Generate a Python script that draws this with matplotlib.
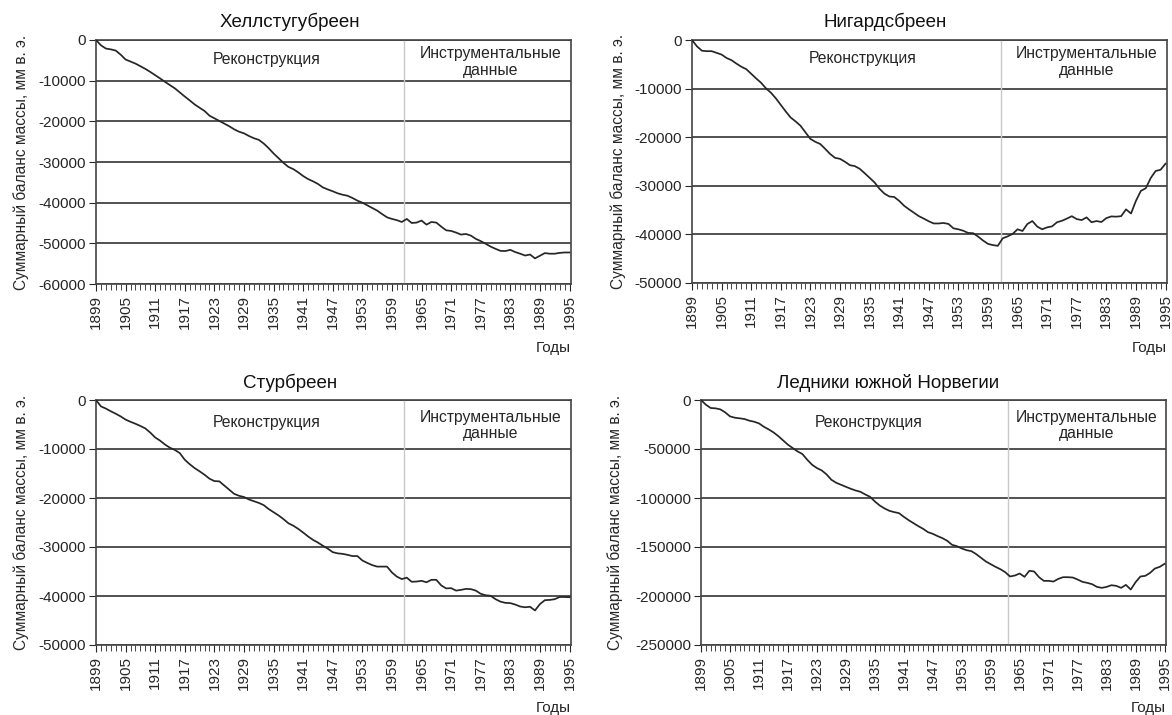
import numpy as np
import matplotlib
matplotlib.use('Agg')
import matplotlib.pyplot as plt

plt.rcParams['font.family'] = ['Liberation Sans', 'DejaVu Sans']
plt.rcParams['axes.unicode_minus'] = False

years = list(range(1899, 1996))

hellstugubreen = [
    0, -1300, -2100, -2300, -2600, -3600, -4800, -5300, -5800, -6450,
    -7100, -7850, -8650, -9450, -10300, -11100, -11900, -12900, -13900, -14850,
    -15850, -16650, -17450, -18600, -19250, -19900, -20550, -21200, -21950, -22550,
    -22950, -23600, -24150, -24550, -25450, -26600, -27900, -29050, -30200, -31200,
    -31750, -32550, -33450, -34200, -34750, -35400, -36250, -36750, -37200, -37700,
    -38050, -38300, -38850, -39500, -40000, -40650, -41300, -41950, -42800, -43600,
    -44000, -44300, -44750, -44000, -45000, -44900, -44400, -45400, -44750, -44900,
    -45900, -46800, -46950, -47350, -47850, -47700, -48100, -48900, -49450, -50100,
    -50800, -51350, -51850, -51900, -51600, -52150, -52550, -53000, -52750, -53700,
    -53050, -52400, -52550, -52550, -52350, -52250, -52250]

nigardsbreen = [
    0, -1300, -2200, -2300, -2300, -2650, -3000, -3700, -4150, -4850,
    -5500, -6000, -6950, -7900, -8800, -9950, -10850, -12000, -13350, -14700,
    -15950, -16750, -17650, -19000, -20350, -20950, -21400, -22400, -23450, -24250,
    -24450, -25050, -25750, -25950, -26500, -27400, -28350, -29300, -30600, -31600,
    -32200, -32300, -33100, -34100, -34850, -35550, -36250, -36750, -37300, -37750,
    -37750, -37650, -37850, -38750, -38950, -39250, -39700, -39750, -40450, -41250,
    -41950, -42200, -42350, -40800, -40400, -39900, -38950, -39300, -37850, -37250,
    -38400, -38950, -38550, -38350, -37500, -37200, -36750, -36250, -36850, -37050,
    -36500, -37500, -37250, -37450, -36650, -36300, -36350, -36250, -34850, -35700,
    -33100, -31050, -30500, -28400, -26950, -26700, -25450]

storbreen = [
    0, -1300, -1750, -2300, -2800, -3350, -4000, -4450, -4850, -5300,
    -5800, -6650, -7650, -8300, -9100, -9750, -10200, -10850, -12200, -13100,
    -13900, -14550, -15250, -16050, -16550, -16600, -17450, -18300, -19150, -19550,
    -19800, -20300, -20650, -21000, -21450, -22250, -22900, -23550, -24300, -25150,
    -25650, -26300, -27050, -27850, -28550, -29100, -29750, -30350, -31050, -31300,
    -31400, -31600, -31850, -31850, -32750, -33250, -33700, -34000, -34000, -34000,
    -35200, -36050, -36550, -36250, -37100, -37050, -36900, -37200, -36700, -36700,
    -37850, -38450, -38400, -38900, -38750, -38550, -38600, -38900, -39550, -39850,
    -39950, -40650, -41150, -41400, -41450, -41750, -42150, -42300, -42200, -42950,
    -41650, -40850, -40800, -40650, -40200, -40200, -40250]

south_norway = [
    0, -4750, -8150, -8500, -9550, -12600, -16700, -18050, -18700, -19400,
    -21100, -22150, -23850, -27250, -29950, -33000, -36800, -41200, -45600, -49050,
    -52450, -55150, -60950, -66050, -69450, -71850, -75900, -81400, -84450, -86500,
    -88550, -90550, -92300, -93650, -96350, -98750, -103500, -107600, -110650, -113050,
    -114400, -115450, -119200, -122600, -125650, -128700, -131450, -134850, -136550, -138900,
    -140950, -143700, -147800, -149150, -151500, -153250, -154250, -157300, -161050, -164800,
    -167550, -170250, -172650, -175700, -180100, -179100, -177050, -180450, -174300, -175000,
    -180800, -184550, -184550, -185250, -182500, -180800, -180800, -181150, -183200, -185550,
    -186600, -187950, -190700, -191700, -190700, -189000, -189650, -191700, -188650, -193400,
    -185900, -180100, -179450, -176400, -171950, -170250, -167200]

titles = ['Хеллстугубреен', 'Нигардсбреен', 'Стурбреен', 'Ледники южной Норвегии']
series = [hellstugubreen, nigardsbreen, storbreen, south_norway]
y_limits = [(-60000, 0), (-50000, 0), (-50000, 0), (-250000, 0)]
y_steps = [10000, 10000, 10000, 50000]
split_years = [1961.5, 1961.6, 1961.5, 1962.6]

W, H = 1172, 715
# axes boxes in pixels: left, top, right, bottom
boxes = [(96, 40, 571, 284), (692, 40, 1167, 283),
         (96, 400, 571, 645), (701, 400, 1166, 645)]
title_pos = [(290, 22), (885, 22), (290, 383), (888, 383)]
ylabel_x = [21, 618, 21, 615]
years_label_y = [348, 348, 708, 708]

dark = '#262626'
fig = plt.figure(figsize=(W / 100, H / 100), dpi=100)

for i in range(4):
    l, t, r, b = boxes[i]
    ax = fig.add_axes([l / W, 1 - b / H, (r - l) / W, (b - t) / H])
    ax.plot(years, series[i], color=dark, lw=1.25, zorder=3)
    ax.axvline(split_years[i], color='#c8c8c8', lw=1.0, zorder=2)
    ax.set_xlim(1899, 1995.3)
    lo, hi = y_limits[i]
    ax.set_ylim(lo, hi)
    ax.set_yticks(np.arange(lo, hi + 1, y_steps[i]))
    ax.yaxis.grid(True, color='#333333', lw=1.2)
    ax.set_axisbelow(True)
    ax.set_xticks(range(1899, 1996, 6))
    ax.set_xticks(range(1899, 1996), minor=True)
    ax.tick_params(axis='x', which='major', rotation=90, labelsize=11,
                   length=5, color=dark, labelcolor=dark, pad=3)
    ax.tick_params(axis='x', which='minor', length=4, color=dark)
    ax.tick_params(axis='y', labelsize=11, length=5, color=dark,
                   labelcolor=dark, pad=2)
    for s in ax.spines.values():
        s.set_color('#444444')
        s.set_linewidth(1.2)

    ax.text(0.36, 0.922 if i < 2 else 0.908, 'Реконструкция', transform=ax.transAxes,
            ha='center', va='center', fontsize=11.3, color=dark)
    ax.text(0.83, 0.91 if i < 2 else 0.896, 'Инструментальные\nданные',
            transform=ax.transAxes, ha='center', va='center', fontsize=11.3,
            color=dark, linespacing=1.12)

    fig.text(title_pos[i][0] / W, 1 - title_pos[i][1] / H, titles[i],
             ha='center', va='center', fontsize=13.5, color='#111111')
    fig.text(ylabel_x[i] / W, 1 - ((t + b) / 2) / H,
             'Суммарный баланс массы, мм в. э.', rotation=90,
             ha='center', va='center', fontsize=11.2, color=dark)
    fig.text(r / W, 1 - years_label_y[i] / H, 'Годы', ha='right', va='center',
             fontsize=11, color=dark)

plt.savefig('out.png', dpi=100)
